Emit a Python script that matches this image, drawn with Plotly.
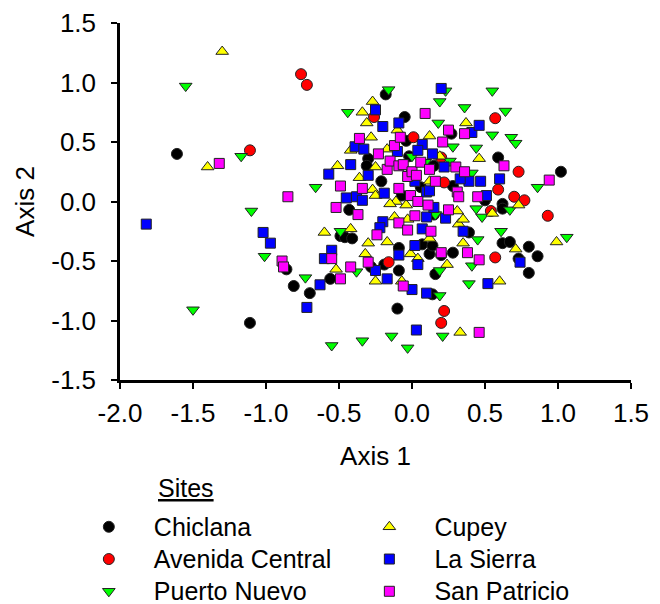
import plotly.graph_objects as go

# ---- data ----
chiclana_x = [-1.61, -1.11, -0.18, -0.05, -0.04, 0.27, 0.59, 1.02, -0.30, -0.31, -0.21, -0.02,
              -0.43, -0.49, -0.46, -0.41, -0.86, -0.81, -0.70, -0.56, -0.28, -0.19, -0.09, -0.09,
              -0.10, 0.07, 0.12, 0.14, 0.16, 0.14, 0.20, 0.28, 0.39, 0.50, 0.62, 0.62, 0.67, 0.80,
              0.73, 0.80, 0.86, 0.62, 0.15, -0.02, 0.06, -0.07, 0.28, 0.15]
chiclana_y = [0.40, -1.02, 0.90, 0.71, 0.51, 0.57, 0.37, 0.25, 0.36, 0.30, 0.17, 0.38,
              -0.07, -0.29, -0.30, -0.31, -0.57, -0.71, -0.77, -0.65, -0.55, -0.53, -0.39, -0.58,
              -0.90, -0.36, -0.44, -0.37, -0.61, -0.78, -0.45, -0.43, -0.26, 0.01, -0.02, -0.35,
              -0.34, -0.38, -0.48, -0.60, -0.46, -0.06, -0.11, 0.22, 0.12, 0.05, 0.13, 0.30]

avenida_x = [-0.76, -0.72, -1.11, -0.26, 0.01, 0.57, 0.73, 0.59, 0.70, 0.77, 0.93, 0.54,
             0.57, -0.16, 0.22, 0.20, 0.22, 0.20]
avenida_y = [1.07, 0.98, 0.43, 0.71, 0.54, 0.70, 0.25, 0.10, 0.04, 0.01, -0.12, -0.08,
             -0.47, -0.51, -0.92, -1.02, 0.16, 0.37]

puerto_x = [-1.55, -1.50, -1.17, -1.10, -1.01, -0.66, -0.73, -0.44, -0.16, -0.49, -0.38, -0.55,
            -0.34, -0.14, -0.03, 0.21, 0.19, 0.19, 0.19, 0.23, 0.36, 0.18, 0.28, 0.26, 0.41,
            0.44, 0.55, 0.64, 0.55, 0.68, 0.71, 0.86, 1.06, 0.67, 0.61, 0.44, 0.48, 0.45, 0.41,
            0.39, 0.16, 0.09, 0.00]
puerto_y = [0.97, -0.91, 0.38, -0.08, -0.46, 0.12, -0.64, 0.75, 0.94, -0.25, -0.59, -1.21,
            -1.17, -1.13, -1.23, -1.13, -0.79, -0.58, 0.84, 0.93, 0.79, 0.66, 0.46, 0.34, 0.24,
            0.45, 0.93, 0.76, 0.56, 0.54, 0.49, 0.12, -0.30, -0.07, -0.25, -0.06, -0.13, -0.32,
            -0.54, -0.69, -0.11, 0.33, 0.38]

cupey_x = [-1.30, -1.40, -0.60, -0.52, -0.51, -0.42, -0.34, -0.27, -0.31, -0.28, -0.36, -0.27,
           -0.25, -0.25, -0.10, -0.17, -0.11, -0.15, -0.04, -0.12, -0.03, -0.42, -0.30, -0.32,
           -0.17, -0.25, -0.07, -0.01, 0.04, 0.12, 0.19, 0.12, 0.31, 0.32, 0.35, 0.35, 0.24,
           0.37, 0.46, 0.55, 0.60, 0.73, 0.71, 0.99, 0.33, 0.12]
cupey_y = [1.26, 0.29, -0.26, -0.57, 0.30, 0.43, 0.75, 0.84, 0.66, 0.54, 0.20, 0.10,
           0.05, 0.29, 0.60, 0.44, 0.00, -0.02, -0.03, -0.13, -0.15, -0.23, -0.35, -0.44,
           -0.34, -0.67, -0.67, -0.44, -0.48, 0.55, 0.38, 0.17, -0.08, -0.19, -0.15, -0.35,
           -0.53, 0.66, 0.36, -0.10, -0.67, -0.03, -0.40, -0.34, -1.10, -0.31]

sierra_x = [-1.82, -1.02, -0.97, -0.72, -0.63, -0.60, -0.55, -0.57, -0.42, -0.45, -0.38, -0.34,
            -0.39, -0.33, -0.30, -0.25, -0.20, -0.09, -0.10, -0.19, -0.20, -0.22, -0.25, -0.17,
            -0.09, 0.00, 0.02, 0.04, 0.07, 0.03, 0.10, 0.20, 0.41, 0.46, 0.47, 0.60, 0.51, 0.35,
            0.23, 0.52, 0.74, 0.22, 0.14, 0.07, 0.04, 0.10, 0.12, 0.02, 0.39, 0.33, 0.10, 0.15]
sierra_y = [-0.19, -0.26, -0.35, -0.89, -0.70, -0.48, -0.41, 0.23, 0.31, 0.03, 0.04, 0.01,
            0.46, 0.44, 0.22, 0.77, 0.63, 0.66, 0.42, 0.07, -0.17, -0.22, -0.58, -0.65,
            -0.45, -0.74, -0.37, -0.53, -0.23, -1.08, -0.77, 0.95, 0.58, 0.64, 0.17, 0.19, 0.05,
            -0.25, -0.14, -0.69, -0.51, 0.29, 0.40, 0.48, 0.43, 0.08, 0.09, 0.17, 0.17, 0.19,
            -0.13, -0.05]

patricio_x = [-1.32, -0.85, -0.89, -0.88, -0.55, -0.49, -0.52, -0.49, -0.36, -0.37, -0.34, -0.42,
              -0.30, -0.24, -0.23, -0.17, -0.15, -0.12, -0.08, -0.09, -0.06, -0.09, -0.09, -0.03,
              -0.06, -0.03, 0.00, 0.03, -0.01, 0.04, 0.02, 0.06, 0.09, 0.12, 0.11, 0.13, 0.16,
              0.21, 0.20, 0.25, 0.25, 0.30, 0.31, 0.32, 0.36, 0.36, 0.38, 0.45, 0.46, 0.63, 0.94,
              0.46]
patricio_y = [0.32, 0.04, -0.50, -0.55, -0.48, -0.65, -0.05, 0.13, 0.53, -0.11, 0.11, -0.55,
              -0.51, -0.28, 0.40, 0.27, 0.34, 0.47, 0.54, 0.30, 0.31, 0.11, -0.18, -0.24,
              -0.71, 0.21, 0.25, 0.22, 0.05, 0.00, -0.12, 0.33, 0.74, 0.27, -0.03, -0.25, 0.17,
              0.50, -0.43, 0.60, -0.07, 0.29, 0.08, 0.04, 0.57, 0.25, -0.43, 0.04, -0.49, 0.30, 0.18,
              -1.10]

x_tickvals = [-2.0, -1.5, -1.0, -0.5, 0.0, 0.5, 1.0, 1.5]
x_ticktext = ["-2.0", "-1.5", "-1.0", "-0.5", "0.0", "0.5", "1.0", "1.5"]
y_tickvals = [-1.5, -1.0, -0.5, 0.0, 0.5, 1.0, 1.5]
y_ticktext = ["-1.5", "-1.0", "-0.5", "0.0", "0.5", "1.0", "1.5"]

# name, x, y, symbol, fill, size, legend
series = [
    ("Chiclana", chiclana_x, chiclana_y, "circle", "#000000", 11, "legend"),
    ("Avenida Central", avenida_x, avenida_y, "circle", "#FF0000", 11, "legend"),
    ("Puerto Nuevo", puerto_x, puerto_y, "triangle-down", "#00FF00", 11, "legend"),
    ("Cupey", cupey_x, cupey_y, "triangle-up", "#FFFF00", 11, "legend2"),
    ("La Sierra", sierra_x, sierra_y, "square", "#0000FF", 10, "legend2"),
    ("San Patricio", patricio_x, patricio_y, "square", "#FF00FF", 10, "legend2"),
]

FONT = "Liberation Sans, Arial, sans-serif"
NB = "\u00a0"
PAD = NB * 4

fig = go.Figure()
for name, xs, ys, sym, col, sz, lg in series:
    fig.add_trace(go.Scatter(
        x=xs, y=ys, mode="markers", legend=lg,
        name=PAD + '<span style="font-size:25px">' + name + "</span>",
        marker=dict(symbol=sym, color=col, size=sz,
                    line=dict(color="#222222", width=1)),
    ))

axis_common = dict(
    showline=True, linecolor="black", linewidth=2.5,
    ticks="outside", ticklen=6, tickwidth=2, tickcolor="black",
    showgrid=False, zeroline=False, mirror=False,
    tickfont=dict(family=FONT, size=26, color="black"),
    title_font=dict(family=FONT, size=26, color="black"),
)

fig.update_xaxes(range=[-2.0, 1.5], tickmode="array", tickvals=x_tickvals, ticktext=x_ticktext,
                 title_text="Axis 1", title_standoff=20, ticklabelstandoff=2, **axis_common)
fig.update_yaxes(range=[-1.5, 1.5], tickmode="array", tickvals=y_tickvals, ticktext=y_ticktext,
                 title_text="Axis 2", title_standoff=10, ticklabelstandoff=10, **axis_common)

legend_common = dict(
    orientation="v",
    yanchor="top",
    y=-0.352,
    font=dict(family=FONT, size=22.5, color="black"),
    itemsizing="trace",
    bgcolor="rgba(0,0,0,0)",
    tracegroupgap=0,
)

fig.update_layout(
    width=660, height=604,
    margin=dict(l=120, r=29, t=23, b=224, autoexpand=False),
    plot_bgcolor="white", paper_bgcolor="white",
    font=dict(family=FONT, size=22, color="black"),
    showlegend=True,
    legend=dict(x=-0.061, xanchor="left", **legend_common),
    legend2=dict(x=0.488, xanchor="left", **legend_common),
    annotations=[dict(
        text="<u>Sites</u>", xref="paper", yref="paper",
        x=0.0706, y=-0.302, xanchor="left", yanchor="middle",
        showarrow=False, font=dict(family=FONT, size=25, color="black"),
    )],
)

fig.write_html("out.html")
